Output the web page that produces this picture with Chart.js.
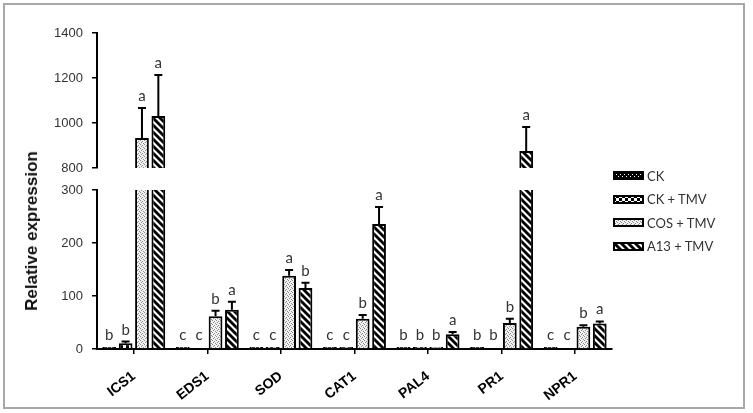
<!DOCTYPE html>
<html><head><meta charset="utf-8">
<script src="https://cdn.jsdelivr.net/npm/chart.js@4.4.1/dist/chart.umd.min.js"></script>
<style>
html,body{margin:0;padding:0;background:#fff;}
#wrap{position:relative;width:753px;height:413px;overflow:hidden;background:#fff;}
#frame{position:absolute;left:3px;top:3px;width:738px;height:402px;border:2px solid #a8a8a8;}
#wrap > canvas{position:absolute;left:0;top:0;}
#ytitle{position:absolute;left:32px;top:231px;transform:translate(-50%,-50%) rotate(-90deg);font:bold 17px 'Liberation Sans',Arial,sans-serif;color:#111;white-space:nowrap;}
#legend{position:absolute;left:613px;top:164px;font:13px Lato,sans-serif;color:#333;}
.row{display:flex;align-items:center;height:23.5px;}
.row canvas{margin-right:3px;}
</style></head>
<body><div id="wrap"><div id="frame"></div>
<canvas id="lower" width="753" height="413"></canvas>
<canvas id="upper" width="753" height="413"></canvas>
<div id="ytitle">Relative expression</div>
<div id="legend"></div>
</div>
<script>
// ---- data ----
const categories = ['ICS1', 'EDS1', 'SOD', 'CAT1', 'PAL4', 'PR1', 'NPR1'];
const seriesNames = ['CK', 'CK + TMV', 'COS + TMV', 'A13 + TMV'];
const ckValues     = [4, 4, 4, 4, 4, 4, 4];
const ckTmvValues  = [11, 1, 4, 4, 4, 1, 1];
const cosTmvValues = [933, 62, 138, 57, 4, 49, 42];
const a13TmvValues = [1031, 74, 115, 236, 28, 876, 48];
const ckErrors     = [0, 0, 0, 0, 0, 0, 0];
const ckTmvErrors  = [3, 0, 0, 0, 0, 0, 0];
const cosTmvErrors = [134, 10, 11, 7, 0, 8, 3];
const a13TmvErrors = [182, 15, 10, 32, 4, 106, 4];
const ckLetters     = ['b', 'c', 'c', 'c', 'b', 'b', 'c'];
const ckTmvLetters  = ['b', 'c', 'c', 'c', 'b', 'b', 'c'];
const cosTmvLetters = ['a', 'b', 'a', 'b', 'b', 'b', 'b'];
const a13TmvLetters = ['a', 'a', 'b', 'a', 'a', 'a', 'a'];
const lowerTicks = [0, 100, 200, 300];
const upperTicks = [800, 1000, 1200, 1400];

// ---- patterns ----
function makePattern(kind) {
  const c = document.createElement('canvas');
  const g = c.getContext('2d');
  if (kind === 'ck') {
    c.width = 4; c.height = 4;
    g.fillStyle = '#000'; g.fillRect(0, 0, 4, 4);
    g.fillStyle = '#fff'; g.fillRect(1, 1, 1, 1); g.fillRect(3, 3, 1, 1);
  } else if (kind === 'cktmv') {
    c.width = 6; c.height = 6;
    g.fillStyle = '#000'; g.fillRect(0, 0, 6, 6);
    g.fillStyle = '#fff'; g.fillRect(0, 0, 3, 3); g.fillRect(3, 3, 3, 3);
  } else if (kind === 'cos') {
    c.width = 4; c.height = 4;
    g.fillStyle = '#f2f2f2'; g.fillRect(0, 0, 4, 4);
    g.fillStyle = '#8a8a8a';
    g.fillRect(0, 0, 1, 1); g.fillRect(2, 1, 1, 1); g.fillRect(1, 2, 1, 1); g.fillRect(3, 3, 1, 1);
  } else {
    c.width = 7; c.height = 7;
    g.fillStyle = '#fff'; g.fillRect(0, 0, 7, 7);
    g.strokeStyle = '#000'; g.lineWidth = 2.8;
    for (const k of [-7, 0, 7]) {
      g.beginPath(); g.moveTo(-2 + k, -2); g.lineTo(9 + k, 9); g.stroke();
    }
  }
  return g.createPattern(c, 'repeat');
}
const patternKinds = ['ck', 'cktmv', 'cos', 'a13'];
const patterns = patternKinds.map(makePattern);
const seriesValues = [ckValues, ckTmvValues, cosTmvValues, a13TmvValues];
const seriesErrors = [ckErrors, ckTmvErrors, cosTmvErrors, a13TmvErrors];
const seriesLetters = [ckLetters, ckTmvLetters, cosTmvLetters, a13TmvLetters];

// ---- error bars & letters plugin ----
const annotatePlugin = {
  id: 'annotate',
  afterDatasetsDraw(chart) {
    const part = chart.options.plugins.annotate.part;
    const ys = chart.scales.y;
    const ctx = chart.ctx;
    const area = chart.chartArea;
    ctx.save();
    chart.data.datasets.forEach((ds, di) => {
      const meta = chart.getDatasetMeta(di);
      meta.data.forEach((bar, i) => {
        const v = ds.data[i];
        if (v === null || v === undefined) return;
        const err = seriesErrors[di][i];
        const top = v + err;
        if (part === 'lower' && top > ys.max) return;
        const yv = ys.getPixelForValue(v);
        const ye = ys.getPixelForValue(top);
        if (err > 0) {
          ctx.strokeStyle = '#000';
          ctx.lineWidth = 2;
          ctx.beginPath();
          ctx.moveTo(bar.x, Math.min(yv, area.bottom));
          ctx.lineTo(bar.x, ye);
          ctx.moveTo(bar.x - 4, ye);
          ctx.lineTo(bar.x + 4, ye);
          ctx.stroke();
        }
        ctx.fillStyle = '#333';
        ctx.font = '15px Lato, sans-serif';
        ctx.textAlign = 'center';
        ctx.textBaseline = 'alphabetic';
        ctx.fillText(seriesLetters[di][i], bar.x, Math.min(ye, area.bottom - 2) - 7);
      });
    });
    ctx.restore();
  }
};

function buildDatasets(part) {
  return seriesNames.map((name, si) => ({
    label: name,
    data: seriesValues[si].map(v => part === 'upper' ? (v >= upperTicks[0] ? v : null) : v),
    backgroundColor: patterns[si],
    borderColor: '#000',
    borderWidth: 2,
    clip: 0,
    categoryPercentage: 0.89,
    barPercentage: 0.84
  }));
}

function buildOptions(part) {
  const ticksArr = part === 'upper' ? upperTicks : lowerTicks;
  return {
    responsive: false,
    animation: false,
    devicePixelRatio: 1,
    layout: { padding: { left: 0, right: 141, top: part === 'upper' ? 33 : 190, bottom: part === 'upper' ? 245 : 0 } },
    plugins: { legend: { display: false }, tooltip: { enabled: false }, annotate: { part } },
    scales: {
      x: {
        display: part !== 'upper',
        offset: true,
        grid: { display: true, drawOnChartArea: false, drawTicks: true, tickLength: 5, color: '#000', lineWidth: 1.5, offset: false },
        border: { display: true, color: '#000', width: 2 },
        ticks: { color: '#000', font: { family: "'Liberation Sans', Arial, sans-serif", size: 14, weight: 'bold' }, minRotation: 38, maxRotation: 38, padding: 14 },
        afterFit: s => { if (part !== 'upper') s.height = 64; }
      },
      y: {
        min: ticksArr[0],
        max: ticksArr[ticksArr.length - 1],
        ticks: { stepSize: ticksArr[1] - ticksArr[0], color: '#333', font: { family: "'Liberation Sans', Arial, sans-serif", size: 13 }, padding: 9, callback: v => String(v) },
        grid: { display: true, drawOnChartArea: false, drawTicks: true, tickLength: 5, color: '#000', lineWidth: 1.5 },
        border: { display: true, color: '#000', width: 2 },
        afterFit: s => { s.width = 97; }
      }
    }
  };
}

new Chart(document.getElementById('lower'), {
  type: 'bar',
  data: { labels: categories, datasets: buildDatasets('lower') },
  options: buildOptions('lower'),
  plugins: [annotatePlugin]
});
new Chart(document.getElementById('upper'), {
  type: 'bar',
  data: { labels: categories, datasets: buildDatasets('upper') },
  options: buildOptions('upper'),
  plugins: [annotatePlugin]
});

// ---- legend ----
const legend = document.getElementById('legend');
seriesNames.forEach((name, si) => {
  const row = document.createElement('div');
  row.className = 'row';
  const sw = document.createElement('canvas');
  sw.width = 31; sw.height = 9;
  const g = sw.getContext('2d');
  g.fillStyle = patterns[si]; g.fillRect(0, 0, 31, 9);
  g.strokeStyle = '#000'; g.lineWidth = 2; g.strokeRect(1, 1, 29, 7);
  const label = document.createElement('span');
  label.textContent = name;
  row.appendChild(sw); row.appendChild(label);
  legend.appendChild(row);
});
</script>
</body></html>
